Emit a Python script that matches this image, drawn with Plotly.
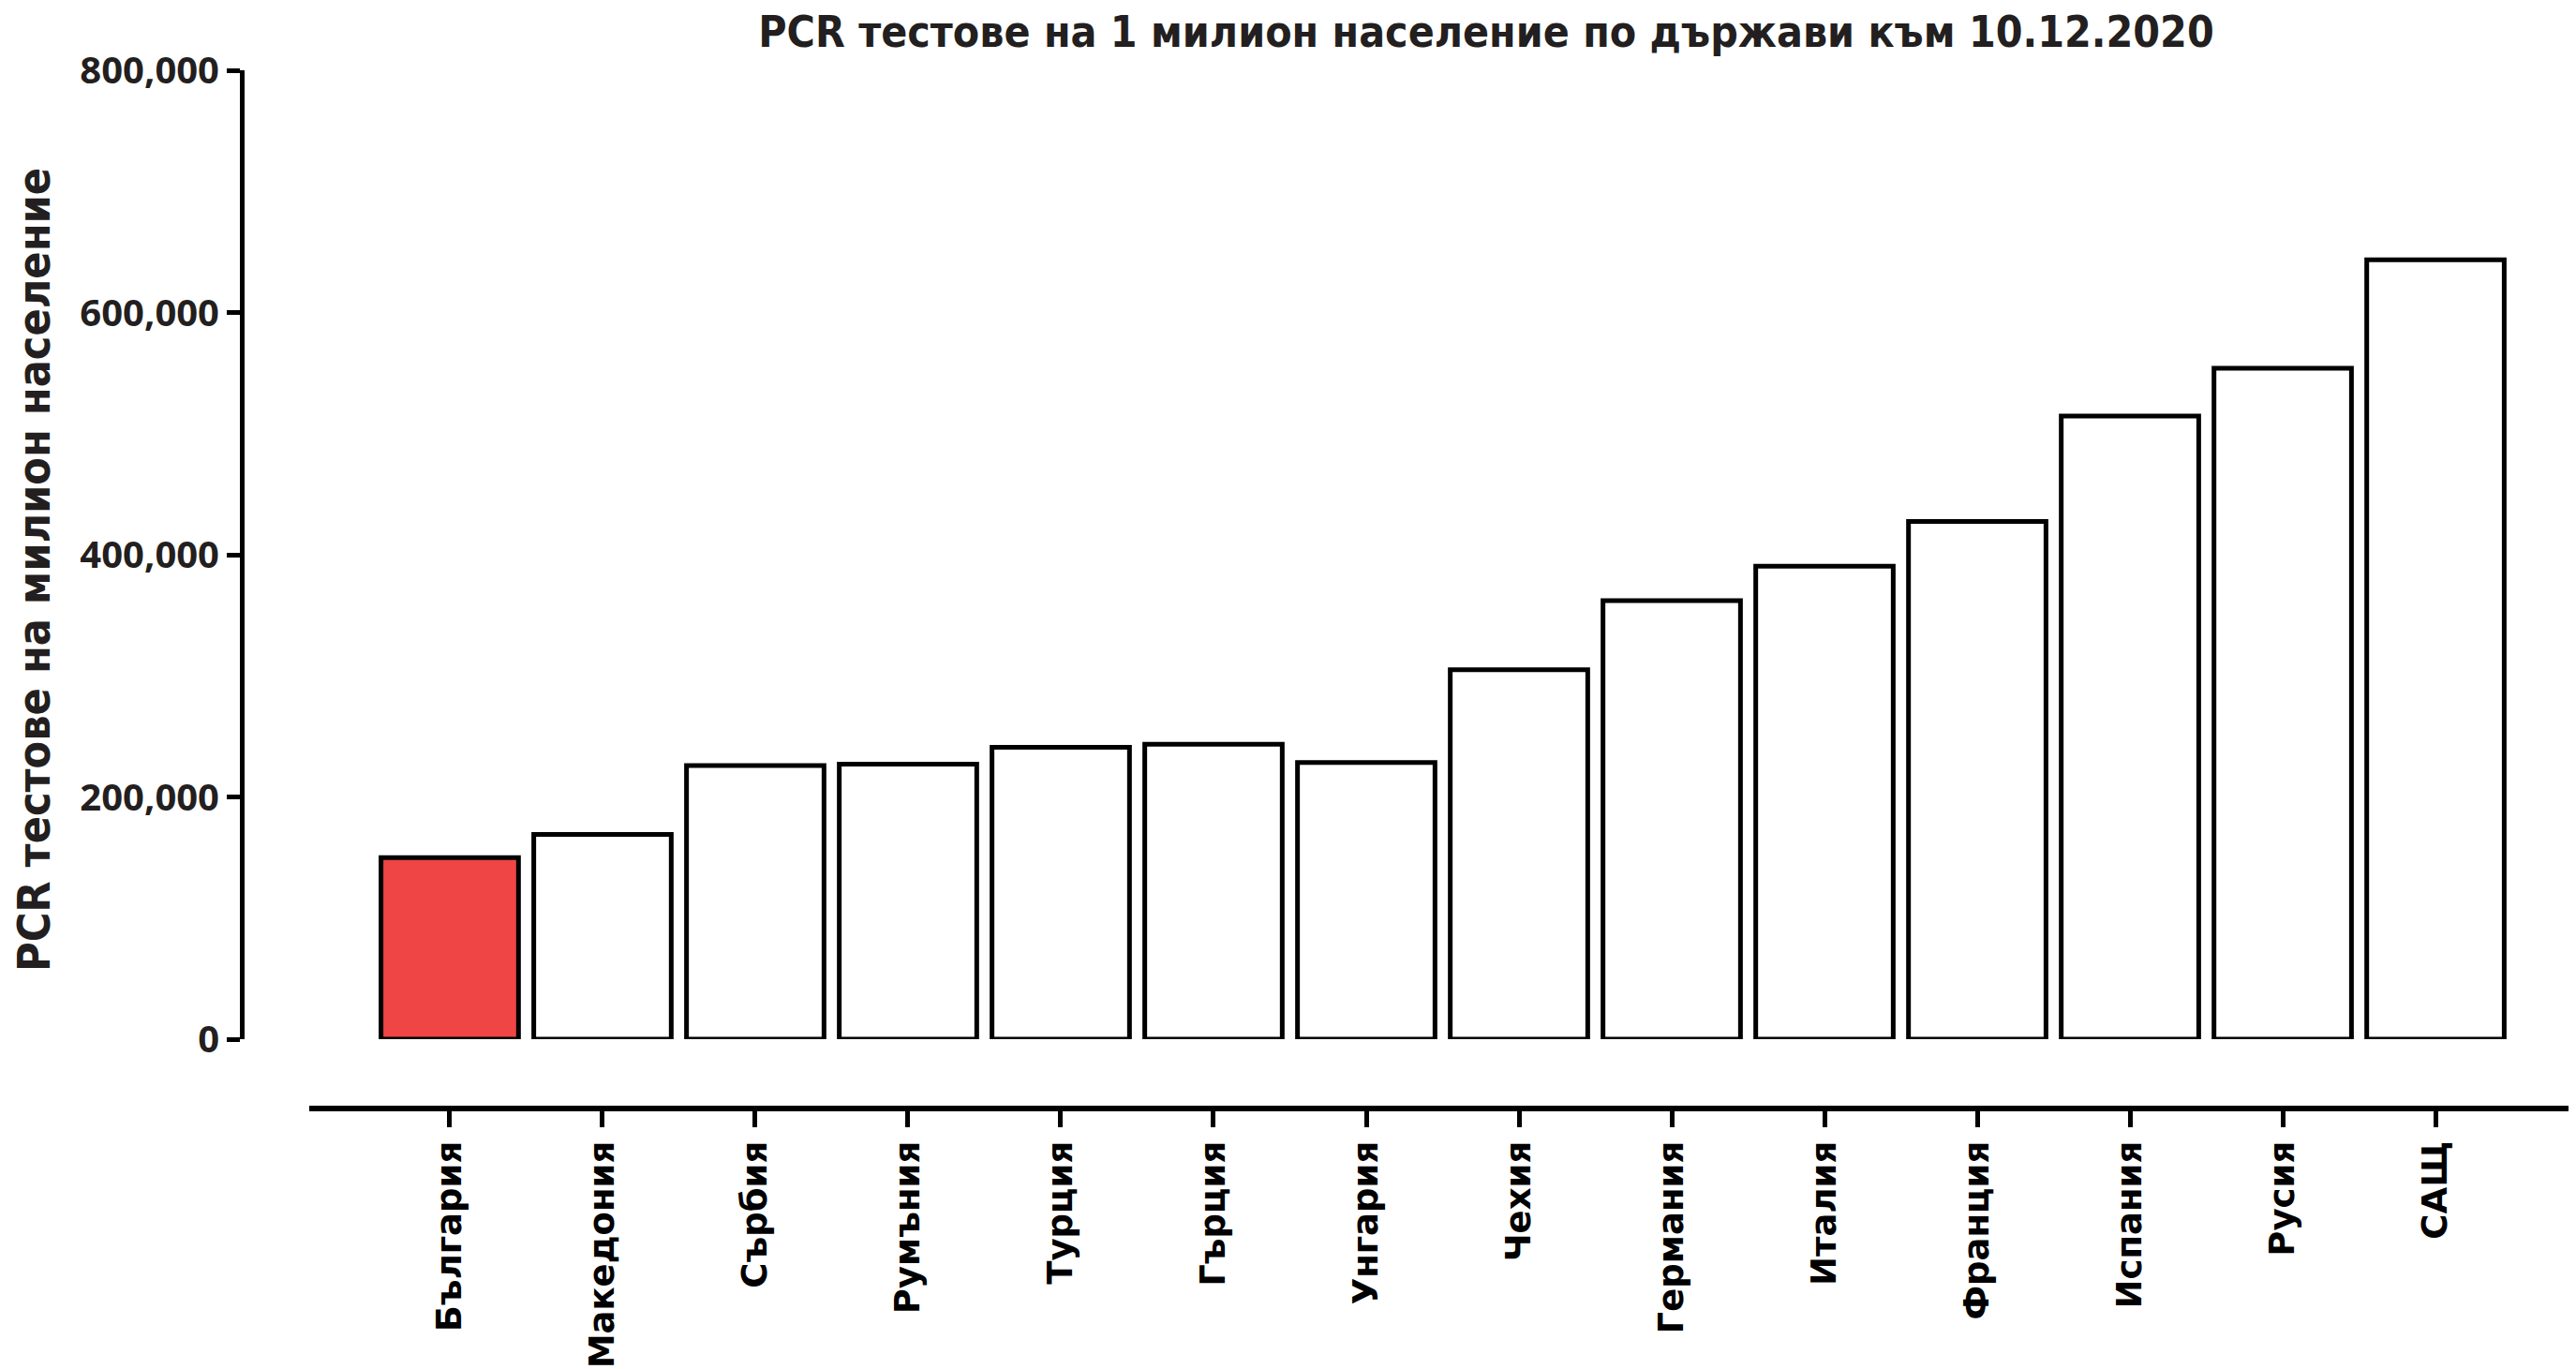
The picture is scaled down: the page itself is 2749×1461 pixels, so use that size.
import plotly.graph_objects as go

# page has an 8px body margin, so the figure is a bit smaller than the window
W, H = 2741, 1453

countries = ['България', 'Македония', 'Сърбия', 'Румъния', 'Турция', 'Гърция', 'Унгария',
             'Чехия', 'Германия', 'Италия', 'Франция', 'Испания', 'Русия', 'САЩ']
tests_per_million = [150000, 169000, 226000, 227000, 241000, 243500, 228500,
                     305000, 362000, 390500, 427500, 514500, 554000, 643500]
y_ticks = [0, 200000, 400000, 600000, 800000]

highlight = 'България'
bar_colors = ['#EF4545' if c == highlight else 'white' for c in countries]

TITLE_FONT = 'Liberation Sans Narrow, DejaVu Sans Condensed, Arial Narrow, sans-serif'
XTICK_FONT = 'DejaVu Sans, Verdana, sans-serif'
YTICK_FONT = 'Open Sans, Noto Sans, sans-serif'
TEXT_COLOR = '#231F20'

L, T, B = 250, 67, 278
plot_w, plot_h = W - L, H - T - B

fig = go.Figure()
fig.add_trace(go.Bar(
	x=countries,
	y=tests_per_million,
	marker=dict(color=bar_colors, line=dict(color='black', width=5)),
	showlegend=False,
))

fig.update_layout(
	width=W,
	height=H,
	paper_bgcolor='white',
	plot_bgcolor='white',
	margin=dict(l=L, r=0, t=T, b=B, pad=0),
	bargap=0.10,
	title=dict(
		text='<b>PCR тестове на 1 милион население по държави към 10.12.2020</b>',
		x=1578 / W,
		xanchor='center',
		yref='container',
		y=1 - 10 / H,
		yanchor='top',
		font=dict(family=TITLE_FONT, size=46, color=TEXT_COLOR),
	),
	xaxis=dict(
		domain=[72 / plot_w, 1],
		range=[-0.92, 13.92],
		anchor='free',
		position=0,
		showline=True,
		linecolor='black',
		linewidth=6,
		ticks='outside',
		ticklen=17,
		tickwidth=5,
		tickcolor='black',
		tickangle=-90,
		tickfont=dict(family=XTICK_FONT, size=37, color='black', weight='bold'),
		showgrid=False,
		zeroline=False,
	),
	yaxis=dict(
		domain=[74 / plot_h, 1],
		range=[0, 800000],
		anchor='free',
		position=0,
		tickvals=y_ticks,
		tickformat=',d',
		showline=True,
		linecolor='black',
		linewidth=5,
		ticks='outside',
		ticklen=14,
		tickwidth=5,
		tickcolor='black',
		tickfont=dict(family=YTICK_FONT, size=40, color=TEXT_COLOR, weight='bold'),
		showgrid=False,
		zeroline=False,
	),
	annotations=[dict(
		text='<b>PCR тестове на милион население</b>',
		xref='paper', yref='paper',
		x=(28 - L) / plot_w, y=(plot_h + T - 600) / plot_h,
		xanchor='center', yanchor='middle',
		textangle=-90,
		showarrow=False,
		font=dict(family=TITLE_FONT, size=48, color=TEXT_COLOR),
	)],
)

fig.write_html('out.html')
